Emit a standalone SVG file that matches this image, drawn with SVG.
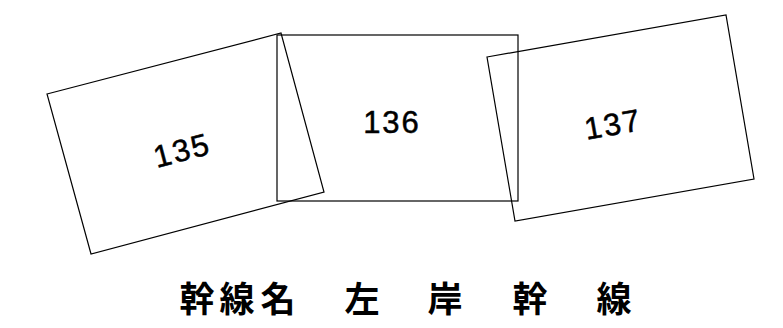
<svg xmlns="http://www.w3.org/2000/svg" width="783" height="328" viewBox="0 0 783 328">
<style>
.sheet{fill:none;stroke:#000;stroke-width:1.2}
.num{font-family:"Liberation Sans","Noto Sans CJK JP",sans-serif;font-size:31px;letter-spacing:2px;fill:#000;stroke:#000;stroke-width:0.5;text-anchor:middle}
.title{font-family:"Noto Sans CJK JP",sans-serif;font-size:35px;font-weight:bold;fill:#000;text-anchor:middle}
</style>
<rect width="783" height="328" fill="#fff"/>
<g id="sheet135">
<polygon class="sheet" points="47,94 281,33 324,192 91,254"/>
<text class="num" x="182" y="161" transform="rotate(-14.6 182 150)">135</text>
</g>
<g id="sheet136">
<rect class="sheet" x="277" y="35" width="241" height="166"/>
<text class="num" x="392" y="133">136</text>
</g>
<g id="sheet137">
<polygon class="sheet" points="487,57 726,15 754,179 515,221"/>
<text class="num" x="613" y="135" transform="rotate(-10 613 124)">137</text>
</g>
<g id="connectors"/>
<g id="title">
<text class="title" y="312"><tspan x="197">幹</tspan><tspan x="237">線</tspan><tspan x="278">名</tspan><tspan x="362">左</tspan><tspan x="445">岸</tspan><tspan x="530">幹</tspan><tspan x="614">線</tspan></text>
</g>
</svg>
